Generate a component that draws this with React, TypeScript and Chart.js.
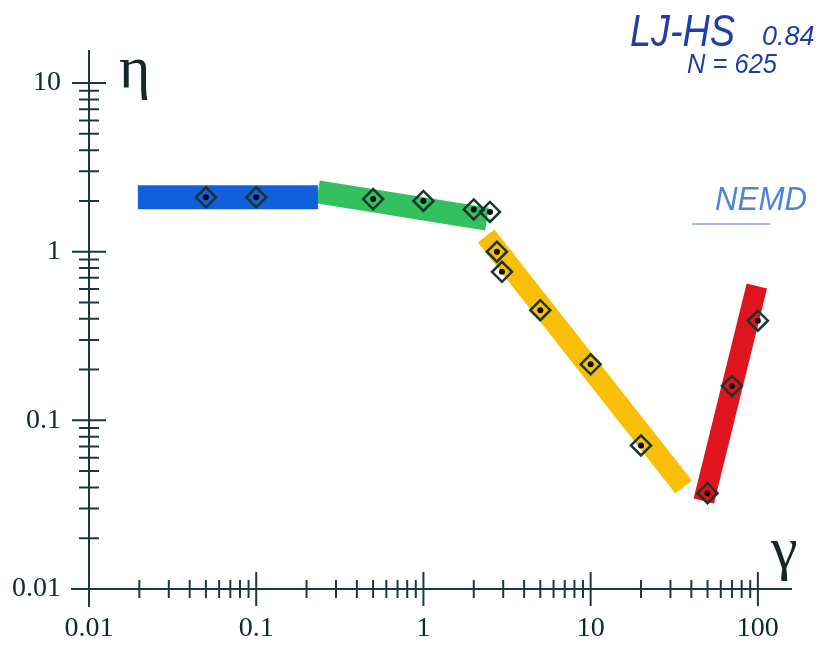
import React, { useEffect, useRef } from 'react';
import { Chart, registerables } from 'chart.js';

Chart.register(...registerables);

// tick labels
const xTickValues = [0.01, 0.1, 1, 10, 100];
const yTickValues = [0.01, 0.1, 1, 10];
const xTickLabels = ['0.01', '0.1', '1', '10', '100'];
const yTickLabels = ['0.01', '0.1', '1', '10'];

// measured points (gamma, eta)
const blueX = [0.05, 0.1];
const blueY = [2.1, 2.1];
const greenX = [0.5, 1, 2, 2.5];
const greenY = [2.05, 2.0, 1.78, 1.72];
const yellowX = [2.75, 2.95, 5, 10, 20];
const yellowY = [1.0, 0.76, 0.45, 0.215, 0.071];
const redX = [50, 70, 100];
const redY = [0.037, 0.16, 0.39];

// regime bands (end points)
const blueBandX = [0.0196, 0.234];
const blueBandY = [2.1, 2.1];
const greenBandX = [0.234, 2.4];
const greenBandY = [2.26, 1.56];
const yellowBandX = [2.37, 36];
const yellowBandY = [1.24, 0.0403];
const redBandX = [47.5, 98.6];
const redBandY = [0.0332, 0.626];

const AXIS_COLOR = '#1a3b3c';
const LABEL_COLOR = '#102a2d';

const zip = (xs: number[], ys: number[]) => xs.map((x, i) => ({ x, y: ys[i] }));

const crossAxesPlugin = {
  id: 'crossAxes',
  afterDraw(chart: any) {
    const ctx = chart.ctx as CanvasRenderingContext2D;
    const xs = chart.scales.x;
    const ys = chart.scales.y;
    const ca = chart.chartArea;
    const x0 = xs.getPixelForValue(0.01);
    const y0 = ys.getPixelForValue(0.01);
    ctx.save();
    ctx.strokeStyle = AXIS_COLOR;
    ctx.lineWidth = 2;
    ctx.lineCap = 'butt';
    ctx.beginPath();
    ctx.moveTo(x0, ca.top);
    ctx.lineTo(x0, y0 + 18);
    ctx.moveTo(x0 - 18, y0);
    ctx.lineTo(ca.right, y0);
    for (const d of yTickValues) {
      const p = ys.getPixelForValue(d);
      ctx.moveTo(x0 - 17, p);
      ctx.lineTo(x0 + 17, p);
      for (let k = 2; k <= 9; k++) {
        const v = k * d;
        if (v > ys.max) break;
        const q = ys.getPixelForValue(v);
        ctx.moveTo(x0 - 10, q);
        ctx.lineTo(x0 + 10, q);
      }
    }
    for (const d of xTickValues) {
      const p = xs.getPixelForValue(d);
      ctx.moveTo(p, y0 - 17);
      ctx.lineTo(p, y0 + 17);
      for (let k = 2; k <= 9; k++) {
        const v = k * d;
        if (v > xs.max) break;
        const q = xs.getPixelForValue(v);
        ctx.moveTo(q, y0 - 9);
        ctx.lineTo(q, y0 + 9);
      }
    }
    ctx.stroke();

    // axis titles
    ctx.fillStyle = '#16272a';
    ctx.textBaseline = 'alphabetic';
    ctx.textAlign = 'left';
    ctx.font = "60px 'Liberation Serif'";
    ctx.fillText('η', 119, 87);
    ctx.fillText('γ', 771, 568);

    // handwritten annotations
    ctx.fillStyle = '#1f3ea6';
    ctx.font = "italic 44px 'Liberation Sans'";
    ctx.fillText('LJ-HS', 630, 46, 105);
    ctx.font = "italic 27px 'Liberation Sans'";
    ctx.fillText('0.84', 762, 45, 53);
    ctx.font = "italic 27px 'Liberation Sans'";
    ctx.fillText('N = 625', 687, 73, 90);
    ctx.fillStyle = '#4f82dc';
    ctx.font = "italic 34px 'Liberation Sans'";
    ctx.fillText('NEMD', 715, 210, 92);
    ctx.strokeStyle = '#8ea6cf';
    ctx.lineWidth = 1.5;
    ctx.beginPath();
    ctx.moveTo(692, 224);
    ctx.lineTo(770, 224);
    ctx.stroke();
    ctx.restore();
  },
};

export default function App() {
  const ref = useRef<HTMLCanvasElement | null>(null);

  useEffect(() => {
    if (!ref.current) return;
    const band = (xs: number[], ys: number[], color: string, w: number) => ({
      data: zip(xs, ys),
      showLine: true,
      borderColor: color,
      borderWidth: w,
      borderCapStyle: 'butt',
      pointRadius: 0,
      fill: false,
    });
    const allX = [...blueX, ...greenX, ...yellowX, ...redX];
    const allY = [...blueY, ...greenY, ...yellowY, ...redY];
    const chart = new Chart(ref.current, {
      type: 'scatter',
      data: {
        datasets: [
          {
            data: zip(allX, allY),
            pointStyle: 'circle',
            pointRadius: 3,
            pointBorderWidth: 0,
            pointBackgroundColor: '#080808',
            showLine: false,
          },
          {
            data: zip(allX, allY),
            pointStyle: 'rectRot',
            pointRadius: 10,
            pointBorderWidth: 2.5,
            pointBorderColor: '#1a352d',
            pointBackgroundColor: 'rgba(0,0,0,0)',
            showLine: false,
          },
          band(blueBandX, blueBandY, '#1060dc', 24),
          band(greenBandX, greenBandY, '#35c060', 23),
          band(yellowBandX, yellowBandY, '#f8be08', 21),
          band(redBandX, redBandY, '#e0141e', 21),
        ] as any,
      },
      options: {
        animation: false,
        responsive: false,
        events: [],
        layout: { padding: { top: 50, right: 26, left: 0, bottom: 0 } },
        plugins: { legend: { display: false }, tooltip: { enabled: false } },
        scales: {
          x: {
            type: 'logarithmic',
            min: 0.01,
            max: 160,
            grid: { display: false, drawTicks: false },
            border: { display: false },
            afterBuildTicks: (s: any) => {
              s.ticks = xTickValues.map((v) => ({ value: v }));
            },
            afterFit: (s: any) => {
              s.height = 58;
            },
            ticks: {
              autoSkip: false,
              maxRotation: 0,
              minRotation: 0,
              padding: 23,
              color: LABEL_COLOR,
              font: { family: "'Liberation Serif'", size: 28 },
              callback: (v: any) => {
                const i = xTickValues.indexOf(Number(v));
                return i >= 0 ? xTickLabels[i] : '';
              },
            },
          },
          y: {
            type: 'logarithmic',
            min: 0.01,
            max: 15.7,
            grid: { display: false, drawTicks: false },
            border: { display: false },
            afterBuildTicks: (s: any) => {
              s.ticks = yTickValues.map((v) => ({ value: v }));
            },
            afterFit: (s: any) => {
              s.width = 89;
            },
            ticks: {
              autoSkip: false,
              padding: 28,
              color: LABEL_COLOR,
              font: { family: "'Liberation Serif'", size: 28 },
              callback: (v: any) => {
                const i = yTickValues.indexOf(Number(v));
                return i >= 0 ? yTickLabels[i] : '';
              },
            },
          },
        },
      } as any,
      plugins: [crossAxesPlugin],
    });
    return () => chart.destroy();
  }, []);

  return (
    <canvas
      ref={ref}
      width={818}
      height={647}
      style={{ position: 'absolute', left: 0, top: 0, width: 818, height: 647, background: '#ffffff' }}
    />
  );
}
